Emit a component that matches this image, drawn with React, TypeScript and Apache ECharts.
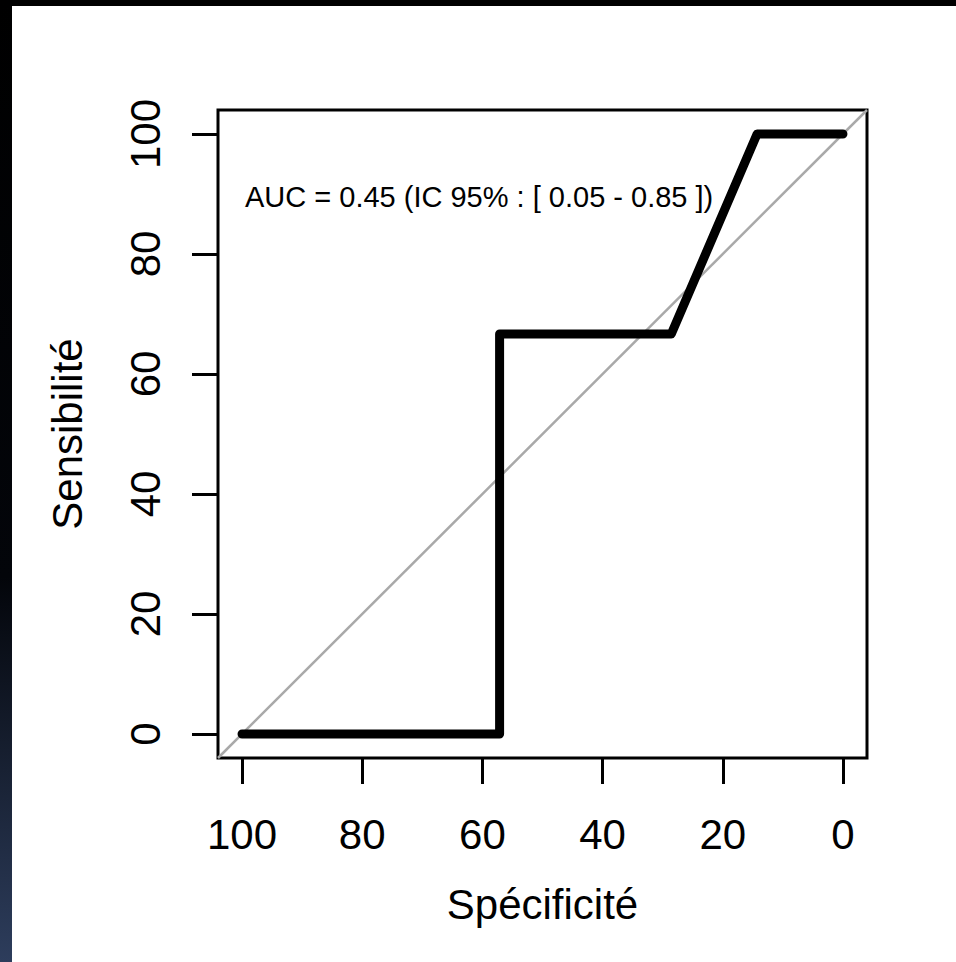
import React, { useEffect, useRef } from "react";
import * as echarts from "echarts";

// ROC curve points (specificity %, sensitivity %)
const specificity = [100, 57.14, 57.14, 28.57, 14.29, 0];
const sensitivity = [0, 0, 66.67, 66.67, 100, 100];
// identity (chance) line across the plotting box
const identitySpec = [104, -4];
const identitySens = [-4, 104];
const tickValues = [0, 20, 40, 60, 80, 100];
const aucText = "AUC = 0.45 (IC 95% : [ 0.05 - 0.85 ])";
const xTitle = "Spécificité";
const yTitle = "Sensibilité";

const FONT = "Liberation Sans, Arial, Helvetica, sans-serif";

export default function App() {
  const ref = useRef<HTMLDivElement>(null);
  useEffect(() => {
    if (!ref.current) return;
    const chart = echarts.init(ref.current, null, { renderer: "svg" });
    const rocData = specificity.map((s, i) => [s, sensitivity[i]]);
    const idData = identitySpec.map((s, i) => [s, identitySens[i]]);
    const axisCommon = {
      type: "value" as const,
      min: -4,
      max: 104,
      axisLine: { show: false, onZero: false },
      splitLine: { show: false },
      axisTick: {
        show: true,
        customValues: tickValues,
        length: 26,
        lineStyle: { color: "#000", width: 3 },
      },
      nameTextStyle: { fontFamily: FONT, fontSize: 42, color: "#000" },
    };
    chart.setOption({
      animation: false,
      backgroundColor: "#fff",
      graphic: [
        { type: "rect", left: 0, top: 0, shape: { width: 956, height: 6 }, style: { fill: "#000" }, z: 10 },
        {
          type: "rect",
          left: 0,
          top: 0,
          shape: { width: 12, height: 962 },
          style: {
            fill: new echarts.graphic.LinearGradient(0, 0, 0, 1, [
              { offset: 0, color: "#000" },
              { offset: 0.6, color: "#03050a" },
              { offset: 1, color: "#2d3d5c" },
            ]),
          },
          z: 10,
        },
        {
          type: "text",
          x: 245,
          y: 197,
          style: {
            text: aucText,
            font: `29px ${FONT}`,
            fill: "#000",
            textAlign: "left",
            textVerticalAlign: "middle",
          },
          z: 10,
        },
      ],
      grid: {
        left: 218,
        top: 110,
        width: 649,
        height: 648,
        show: true,
        borderColor: "#000",
        borderWidth: 3,
        backgroundColor: "transparent",
      },
      xAxis: {
        ...axisCommon,
        inverse: true,
        name: xTitle,
        nameLocation: "middle",
        nameGap: 125,
        axisLabel: {
          customValues: tickValues,
          fontFamily: FONT,
          fontSize: 42,
          color: "#000",
          margin: 55,
        },
      },
      yAxis: {
        ...axisCommon,
        name: yTitle,
        nameLocation: "middle",
        nameGap: 130,
        axisLabel: {
          customValues: tickValues,
          fontFamily: FONT,
          fontSize: 42,
          color: "#000",
          margin: 52,
          rotate: 90,
        },
      },
      series: [
        {
          type: "line",
          data: idData,
          symbol: "none",
          lineStyle: { color: "#a9a9a9", width: 2.5 },
          silent: true,
          z: 2,
        },
        {
          type: "line",
          data: rocData,
          symbol: "none",
          lineStyle: { color: "#000", width: 9, cap: "round", join: "round" },
          silent: true,
          z: 3,
        },
      ],
    });
    return () => chart.dispose();
  }, []);
  return (
    <div
      ref={ref}
      style={{ position: "absolute", left: 0, top: 0, width: 956, height: 962, background: "#fff" }}
    />
  );
}
